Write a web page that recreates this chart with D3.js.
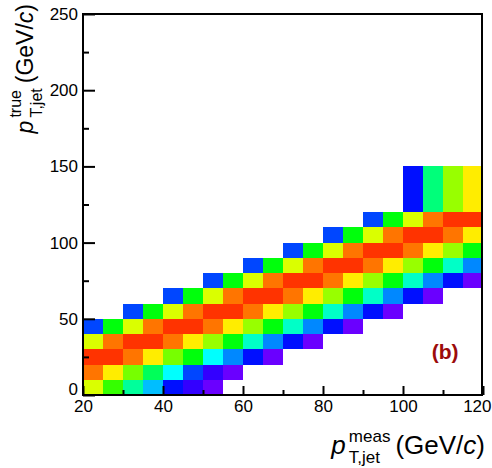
<!DOCTYPE html>
<html>
<head>
<meta charset="utf-8">
<script src="https://cdn.jsdelivr.net/npm/d3@7"></script>
<style>
  body { margin: 0; background: #fff; }
  text { font-family: "Liberation Sans", Arial, Helvetica, sans-serif; }
</style>
</head>
<body>
<svg id="chart" width="492" height="468"></svg>
<script>
// Bin edges of the measured (x) and true (y) jet pT axes, in GeV/c
const measEdges = [20, 25, 30, 35, 40, 45, 50, 55, 60, 65, 70, 75, 80, 85, 90, 95, 100, 105, 110, 115, 120];
const trueEdges = [0, 10, 20, 30, 40, 50, 60, 70, 80, 90, 100, 110, 120, 150];

// Lower measured-pT edge of the first filled bin in each true-pT row
const rowStart = [20, 20, 20, 20, 20, 30, 40, 50, 60, 70, 80, 90, 100];

// Relative response (0..1) of each filled bin, left to right from rowStart
const row0  = [0.78, 0.63, 0.44, 0.29, 0.13, 0.07, 0.02];
const row1  = [0.94, 0.83, 0.69, 0.50, 0.35, 0.18, 0.07, 0.02];
const row2  = [1.00, 1.00, 0.94, 0.83, 0.69, 0.57, 0.35, 0.24, 0.13, 0.02];
const row3  = [0.78, 0.94, 1.00, 1.00, 0.94, 0.83, 0.72, 0.57, 0.40, 0.24, 0.13, 0.02];
const row4  = [0.18, 0.57, 0.78, 0.94, 1.00, 1.00, 0.94, 0.83, 0.72, 0.57, 0.40, 0.24, 0.13, 0.02];
const row5  = [0.18, 0.57, 0.78, 0.94, 1.00, 1.00, 0.94, 0.83, 0.72, 0.57, 0.40, 0.24, 0.13, 0.02];
const row6  = [0.18, 0.57, 0.78, 0.94, 1.00, 1.00, 0.94, 0.83, 0.72, 0.57, 0.40, 0.24, 0.13, 0.02];
const row7  = [0.18, 0.57, 0.78, 0.94, 1.00, 1.00, 0.94, 0.83, 0.72, 0.57, 0.40, 0.24, 0.13, 0.02];
const row8  = [0.18, 0.57, 0.78, 0.94, 1.00, 1.00, 0.94, 0.83, 0.72, 0.57, 0.40, 0.24];
const row9  = [0.18, 0.57, 0.78, 0.94, 1.00, 1.00, 0.94, 0.83, 0.72, 0.57];
const row10 = [0.18, 0.57, 0.78, 0.94, 1.00, 1.00, 0.94, 0.83];
const row11 = [0.18, 0.57, 0.78, 0.94, 1.00, 1.00];
const row12 = [0.13, 0.47, 0.72, 0.83];
const rows = [row0, row1, row2, row3, row4, row5, row6, row7, row8, row9, row10, row11, row12];

// Axis ticks and labels
const xMajor = [20, 40, 60, 80, 100, 120];
const xMinor = [30, 50, 70, 90, 110];
const yMajor = [0, 50, 100, 150, 200, 250];
const yMinor = [25, 75, 125, 175, 225];

const svg = d3.select("#chart");
const frame = { left: 83, right: 482, top: 14, bottom: 395 };

const x = d3.scaleLinear().domain([20, 120]).range([frame.left, frame.right + 1]);
const y = d3.scaleLinear().domain([0, 250]).range([frame.bottom, frame.top]);

// Rainbow palette: violet for the smallest response, red for the largest
const hue = d3.scaleLinear().domain([0, 1]).range([270, 12]);
const color = v => d3.hsl(hue(v), 1, 0.5).formatHex();

// Flatten the rows into cells
const cells = [];
rows.forEach((vals, r) => {
  const i0 = measEdges.indexOf(rowStart[r]);
  vals.forEach((v, j) => {
    cells.push({
      x0: measEdges[i0 + j], x1: measEdges[i0 + j + 1],
      y0: trueEdges[r], y1: trueEdges[r + 1], v
    });
  });
});

svg.append("g")
  .attr("shape-rendering", "crispEdges")
  .selectAll("rect")
  .data(cells)
  .join("rect")
  .attr("x", d => x(d.x0))
  .attr("y", d => y(d.y1))
  .attr("width", d => x(d.x1) - x(d.x0))
  .attr("height", d => y(d.y0) - y(d.y1))
  .attr("fill", d => color(d.v));

// Frame
svg.append("rect")
  .attr("x", frame.left).attr("y", frame.top)
  .attr("width", frame.right - frame.left).attr("height", frame.bottom - frame.top)
  .attr("fill", "none").attr("stroke", "#000").attr("stroke-width", 2);

// Bottom axis: major and minor ticks pointing into the frame
const xAxis = svg.append("g").attr("transform", `translate(0,${frame.bottom})`)
  .call(d3.axisBottom(x).tickValues(xMajor).tickSize(-9).tickPadding(5).tickFormat(d3.format("d")));
svg.append("g").attr("transform", `translate(0,${frame.bottom})`)
  .call(d3.axisBottom(x).tickValues(xMinor).tickSize(-5).tickFormat(""));

// Left axis
const yAxis = svg.append("g").attr("transform", `translate(${frame.left},0)`)
  .call(d3.axisLeft(y).tickValues(yMajor).tickSize(-12).tickPadding(5).tickFormat(d3.format("d")));
svg.append("g").attr("transform", `translate(${frame.left},0)`)
  .call(d3.axisLeft(y).tickValues(yMinor).tickSize(-6).tickFormat(""));

svg.selectAll(".domain").remove();
svg.selectAll(".tick line").attr("stroke", "#000").attr("stroke-width", 2);
svg.selectAll(".tick text").attr("fill", "#000").style("font-size", "17px");
xAxis.selectAll(".tick text").attr("dy", "0.71em");
// keep the last x label inside the canvas
xAxis.selectAll(".tick text").filter(d => d === 120).attr("text-anchor", "end").attr("dx", "8");
// lift the zero label clear of the first x label
yAxis.selectAll(".tick text").filter(d => d === 0).attr("dy", "-0.05em");

// Axis title built from italic p, stacked super/subscripts and the unit
function axisTitle(g, sup, sub, main, small) {
  const p = g.append("text").style("font-size", main + "px").style("font-style", "italic").text("p");
  const pw = p.node().getComputedTextLength();
  const s1 = g.append("text").attr("x", pw + 3).attr("y", -12).style("font-size", small + "px").text(sup);
  const s2 = g.append("text").attr("x", pw + 3).attr("y", 9).style("font-size", small + "px").text(sub);
  const sw = Math.max(s1.node().getComputedTextLength(), s2.node().getComputedTextLength());
  const unit = g.append("text").attr("x", pw + 3 + sw + 5).style("font-size", main + "px");
  unit.append("tspan").text("(GeV/");
  unit.append("tspan").style("font-style", "italic").text("c");
  unit.append("tspan").text(")");
  return pw + 3 + sw + 5 + unit.node().getComputedTextLength();
}

const xt = svg.append("g");
const xw = axisTitle(xt, "meas", "T,jet", 26, 17);
xt.attr("transform", `translate(${frame.right + 3 - xw},454)`);

const yt = svg.append("g");
const yw = axisTitle(yt, "true", "T,jet", 23, 16);
yt.attr("transform", `translate(33,${4 + yw}) rotate(-90)`);

// Panel label
svg.append("text")
  .attr("x", x(107.2)).attr("y", y(23.5))
  .attr("fill", "#9c0b0b")
  .style("font-size", "21px").style("font-weight", "bold")
  .text("(b)");
</script>
</body>
</html>
